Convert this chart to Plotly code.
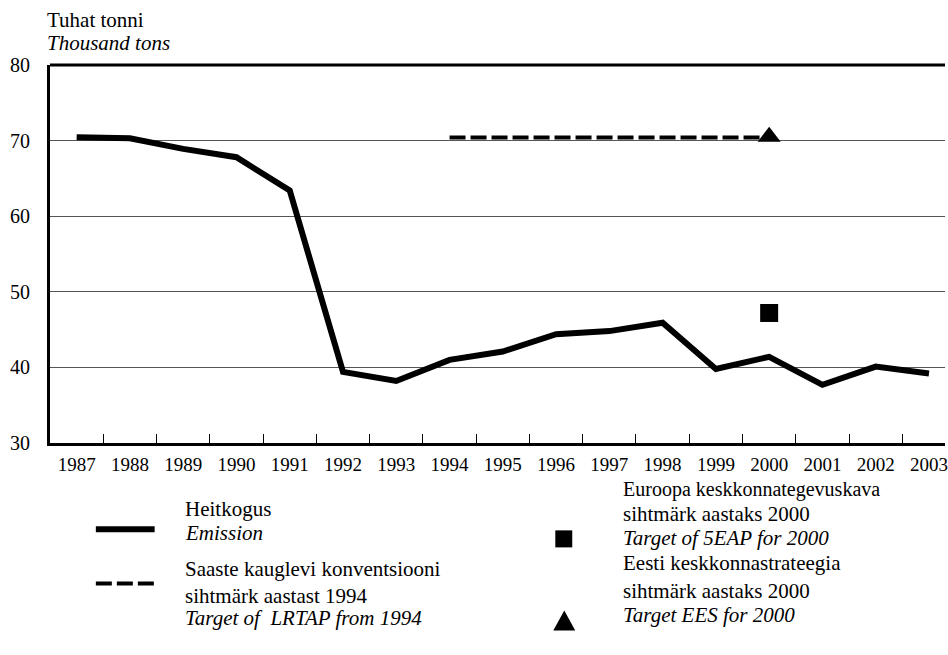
import plotly.graph_objects as go

years = ["1987", "1988", "1989", "1990", "1991", "1992", "1993", "1994", "1995",
         "1996", "1997", "1998", "1999", "2000", "2001", "2002", "2003"]
emission = [70.45, 70.3, 68.9, 67.8, 63.4, 39.4, 38.2, 41.0, 42.1,
            44.4, 44.8, 45.9, 39.8, 41.4, 37.7, 40.1, 39.2]
lrtap_years = ["1994", "1995", "1996", "1997", "1998", "1999", "2000"]
lrtap_values = [70.4, 70.4, 70.4, 70.4, 70.4, 70.4, 70.4]
eap_year = ["2000"]
eap_value = [47.2]
ees_year = ["2000"]
ees_value = [70.5]

FONT = "Liberation Serif"

fig = go.Figure()
fig.add_trace(go.Scatter(x=years, y=emission, mode="lines",
                         line=dict(color="black", width=6), showlegend=False))
fig.add_trace(go.Scatter(x=lrtap_years, y=lrtap_values, mode="lines",
                         line=dict(color="black", width=4, dash="16px,5px"), showlegend=False))
fig.add_trace(go.Scatter(x=eap_year, y=eap_value, mode="markers",
                         marker=dict(symbol="square", size=18, color="black"), showlegend=False))
fig.add_trace(go.Scatter(x=ees_year, y=ees_value, mode="markers",
                         marker=dict(symbol="triangle-up", size=20, color="black"), showlegend=False))

L, T, W, H = 50, 65, 948, 655
PW = W - L
B = 442.7
PH = B - T

def px(x):
    return (x - L) / PW

def py(y):
    return (B - y) / PH

shapes = []
shapes.append(dict(type="line", xref="paper", yref="paper", x0=0, x1=1, y0=1, y1=1,
                   line=dict(color="black", width=3)))
shapes.append(dict(type="line", xref="paper", yref="paper", x0=px(96), x1=px(155),
                   y0=py(529), y1=py(529), line=dict(color="black", width=6)))
shapes.append(dict(type="line", xref="paper", yref="paper", x0=px(96), x1=px(155),
                   y0=py(583), y1=py(583), line=dict(color="black", width=4, dash="16px,5px")))
shapes.append(dict(type="rect", xref="paper", yref="paper", x0=px(557), x1=px(574),
                   y0=py(530), y1=py(547), fillcolor="black", line=dict(width=0)))
shapes.append(dict(type="path", xref="paper", yref="paper",
                   path=f"M {px(555)} {py(630)} L {px(577)} {py(630)} L {px(566)} {py(610)} Z",
                   fillcolor="black", line=dict(width=0)))

annotations = []
def txt(s, x, y, italic=False, size=21):
    annotations.append(dict(text=(f"<i>{s}</i>" if italic else s), xref="paper", yref="paper",
                            x=px(x - 3), y=py(y), xanchor="left", yanchor="middle",
                            showarrow=False, borderpad=0,
                            font=dict(family=FONT, size=size, color="black")))

txt("Tuhat tonni", 49, 20)
txt("Thousand tons", 49, 43, italic=True)
txt("Heitkogus", 187, 509)
txt("Emission", 187, 533, italic=True)
txt("Saaste kauglevi konventsiooni", 187, 569)
txt("sihtmärk aastast 1994", 187, 596)
txt("Target of  LRTAP from 1994", 187, 618, italic=True)
txt("Euroopa keskkonnategevuskava", 627, 489, size=20)
txt("sihtmärk aastaks 2000", 627, 514)
txt("Target of 5EAP for 2000", 627, 538, italic=True)
txt("Eesti keskkonnastrateegia", 627, 563)
txt("sihtmärk aastaks 2000", 627, 591)
txt("Target EES for 2000", 627, 615, italic=True)

fig.update_layout(
    width=W, height=H,
    margin=dict(l=L, r=0, t=T, b=H - B),
    paper_bgcolor="white", plot_bgcolor="white",
    font=dict(family=FONT, size=20, color="black"),
    shapes=shapes, annotations=annotations,
    xaxis=dict(type="category", categoryorder="array", categoryarray=years,
               range=[-0.5, -0.5 + PW / 53.45], tickson="boundaries",
               ticks="inside", ticklen=9, tickwidth=1, tickcolor="black",
               showgrid=False, showline=True, linecolor="black", linewidth=3,
               tickfont=dict(family=FONT, size=19, color="black"),
               ticklabelstandoff=2, zeroline=False),
    yaxis=dict(range=[30, 80], dtick=10, tick0=30, showgrid=True, gridcolor="#555",
               gridwidth=1, showline=True, linecolor="black", linewidth=3,
               ticks="", tickfont=dict(family=FONT, size=20, color="black"),
               ticklabelstandoff=13, zeroline=False),
)

fig.write_html("out.html", config={"displayModeBar": False},
               post_script="document.body.style.margin='0';")
